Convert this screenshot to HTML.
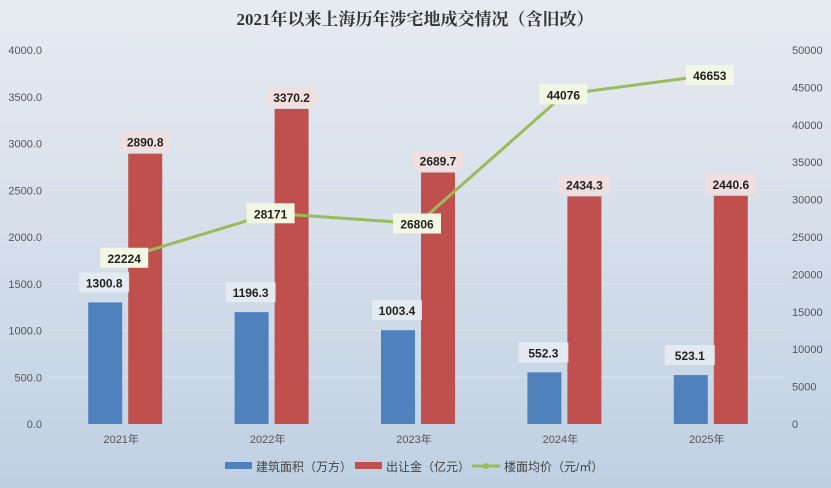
<!DOCTYPE html>
<html><head><meta charset="utf-8"><style>
body{margin:0;width:831px;height:488px;overflow:hidden;background:linear-gradient(180deg,#e6ebf1 0%,#d3dde9 55%,#bfd0e3 100%);font-family:"Liberation Sans","Noto Sans CJK SC",sans-serif}
svg{display:block}
</style></head><body>
<svg id="c" width="831" height="488">
<text x="415" y="25" text-anchor="middle" font-size="17" font-weight="bold" fill="#333" font-family="Liberation Serif,Noto Serif CJK SC,serif">2021年以来上海历年涉宅地成交情况（含旧改）</text>
</svg>
<script>
const categories=["2021年","2022年","2023年","2024年","2025年"];
const area=[1300.8,1196.3,1003.4,552.3,523.1];
const fee=[2890.8,3370.2,2689.7,2434.3,2440.6];
const price=[22224,28171,26806,44076,46653];
const leftTicks=[0,500,1000,1500,2000,2500,3000,3500,4000];
const rightTicks=[0,5000,10000,15000,20000,25000,30000,35000,40000,45000,50000];
const svg=document.getElementById('c');const NS='http://www.w3.org/2000/svg';
const L=52,R=784,T=50,B=424;
const band=(R-L)/categories.length;
const xc=i=>L+band*(i+0.5);
const yl=v=>B-(v/4000)*(B-T);
const yr=v=>B-(v/50000)*(B-T);
function mk(t,a,txt){const e=document.createElementNS(NS,t);for(const k in a)e.setAttribute(k,a[k]);if(txt!==undefined)e.textContent=txt;svg.appendChild(e);return e;}
leftTicks.forEach(v=>{
 const g=mk('line',{x1:L-4,x2:R,y1:yl(v),y2:yl(v),stroke:v===0?'#c8d0da':'#dfe4ea','stroke-width':1});
 
 
 const t=mk('text',{x:42,y:yl(v)+4,'text-anchor':'end','font-size':11,fill:'#555'},v.toFixed(1));
 
 
});
rightTicks.forEach(v=>{
 const t=mk('text',{x:792,y:yr(v)+4,'font-size':11,fill:'#555'},String(v));
 
 
});
categories.forEach((c,i)=>{
 const t=mk('text',{x:xc(i)-4,y:443,'text-anchor':'middle','font-size':11,fill:'#555'},c);
 
 
 const bw=34;
 const b1=mk('rect',{x:xc(i)-37,y:yl(area[i]),width:bw,height:B-yl(area[i]),fill:'#4f81bd'});
 
 
 const b2=mk('rect',{x:xc(i)+3,y:yl(fee[i]),width:bw,height:B-yl(fee[i]),fill:'#c0504d'});
 
 
 const l1=mk('rect',{x:xc(i)-46,y:yl(area[i])-30,width:50,height:20,fill:'#e6ebf2',opacity:0.9});
 
 
 const t1=mk('text',{x:xc(i)-21,y:yl(area[i])-15,'text-anchor':'middle','font-size':12,'font-weight':'bold',fill:'#222'},area[i].toFixed(1));
 
 
 const l2=mk('rect',{x:xc(i)-5,y:yl(fee[i])-22,width:50,height:20,fill:'#f3dede',opacity:0.9});
 
 
 const t2=mk('text',{x:xc(i)+20,y:yl(fee[i])-7,'text-anchor':'middle','font-size':12,'font-weight':'bold',fill:'#222'},fee[i].toFixed(1));
 
 
});
const pts=price.map((v,i)=>xc(i)+','+yr(v)).join(' ');
const pl=mk('polyline',{points:pts,fill:'none',stroke:'#9bbb59','stroke-width':3});


price.forEach((v,i)=>{
 const r=mk('rect',{x:xc(i)-25,y:yr(v)-10,width:48,height:20,fill:'#f4f6e4'});
 
 
 const t=mk('text',{x:xc(i)-1,y:yr(v)+5,'text-anchor':'middle','font-size':12,'font-weight':'bold',fill:'#222'},String(v));
 
 
});
const lg=[['#4f81bd','建筑面积（万方）',225],['#c0504d','出让金（亿元）',355]];
lg.forEach(([c,s,x])=>{
 const r=mk('rect',{x:x,y:462,width:27,height:7,fill:c});
 
 
 const t=mk('text',{x:x+31,y:471,'font-size':12,fill:'#444'},s);
 
 
});
const ll=mk('line',{x1:472,x2:500,y1:466,y2:466,stroke:'#9bbb59','stroke-width':3});


const lc=mk('circle',{cx:486,cy:466,r:3,fill:'#9bbb59'});


const lt=mk('text',{x:504,y:471,'font-size':12,fill:'#444'},'楼面均价（元/㎡）');


</script>
</body></html>
